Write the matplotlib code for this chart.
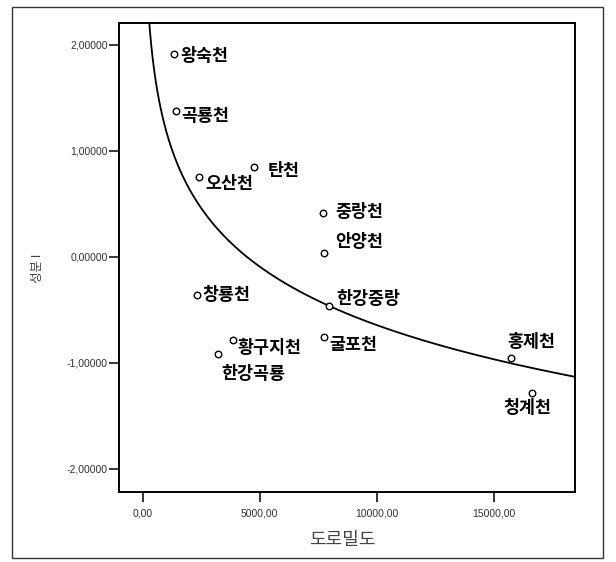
import numpy as np
import matplotlib
matplotlib.use("Agg")
import matplotlib.pyplot as plt
from matplotlib.patches import Rectangle

plt.rcParams['font.family'] = ['Liberation Sans', 'Noto Sans CJK KR', 'DejaVu Sans']

# Streams: road density vs. component I score
streams = ['왕숙천', '곡룡천', '오산천', '탄천', '중랑천', '안양천', '한강중랑',
           '창룡천', '황구지천', '한강곡룡', '굴포천', '홍제천', '청계천']
road_density = [1350, 1410, 2420, 4770, 7720, 7760, 7950,
                2330, 3870, 3200, 7750, 15730, 16650]
component_1 = [1.915, 1.377, 0.755, 0.849, 0.415, 0.04, -0.465,
               -0.361, -0.779, -0.911, -0.755, -0.953, -1.283]

# label offsets (pixels) relative to each point
label_dx = [6, 5, 6, 13, 12, 11, 8, 5, 4, 4, 5, -3, -29]
label_dy = [-2, -5, -7, -4, 1, 11, 7, 0, -8, -20, -8, 16, -15]

# logarithmic fit: y = a + b*ln(x)
fit_a = 6.68
fit_b = -0.795

x_ticks = [0, 5000, 10000, 15000]
x_ticklabels = ['0,00', '5000,00', '10000,00', '15000,00']
y_ticks = [-2, -1, 0, 1, 2]
y_ticklabels = ['-2,00000', '-1,00000', '0,00000', '1,00000', '2,00000']

fig = plt.figure(figsize=(6.16, 5.62), dpi=100)
ax = fig.add_axes([0.1927, 0.124, 0.7407, 0.8356])

ax.set_xlim(-1030, 18480)
ax.set_ylim(-2.22, 2.21)

xs = np.geomspace(200, 18480, 400)
ax.plot(xs, fit_a + fit_b * np.log(xs), color='black', lw=1.3, zorder=2)

ax.scatter(road_density, component_1, s=22, facecolors='white',
           edgecolors='black', linewidths=1.0, zorder=3)

for name, x, y, dx, dy in zip(streams, road_density, component_1, label_dx, label_dy):
    ax.annotate(name, (x, y), xytext=(dx, dy), textcoords='offset pixels',
                ha='left', va='center', fontsize=12.5, fontweight='bold',
                family=['Noto Sans CJK KR', 'DejaVu Sans'], color='black', zorder=4)

ax.set_xticks(x_ticks)
ax.set_xticklabels(x_ticklabels)
ax.set_yticks(y_ticks)
ax.set_yticklabels(y_ticklabels)
ax.tick_params(axis='both', direction='out', length=7, width=1.1, color='black',
               labelsize=7.5, labelcolor='#333333')
ax.tick_params(axis='y', pad=1)
ax.tick_params(axis='x', pad=5)

for sp in ax.spines.values():
    sp.set_linewidth(1.4)
    sp.set_color('black')

fig.text(38 / 616, 1 - 268 / 562, '성분 I', rotation=90, ha='center', va='center',
         fontsize=9, color='#444444', family=['Noto Sans CJK KR', 'DejaVu Sans'])
fig.text(342 / 616, 1 - 540 / 562, '도로밀도', ha='center', va='center',
         fontsize=13, color='#444444', fontweight='light',
         family=['Noto Sans CJK KR', 'DejaVu Sans'])

# outer frame
fig.patches.append(Rectangle((12 / 616, 1 - 558 / 562), (603 - 12) / 616, (558 - 7) / 562,
                             transform=fig.transFigure, fill=False,
                             edgecolor='#333333', lw=1.0))

fig.savefig('out.png', dpi=100)
